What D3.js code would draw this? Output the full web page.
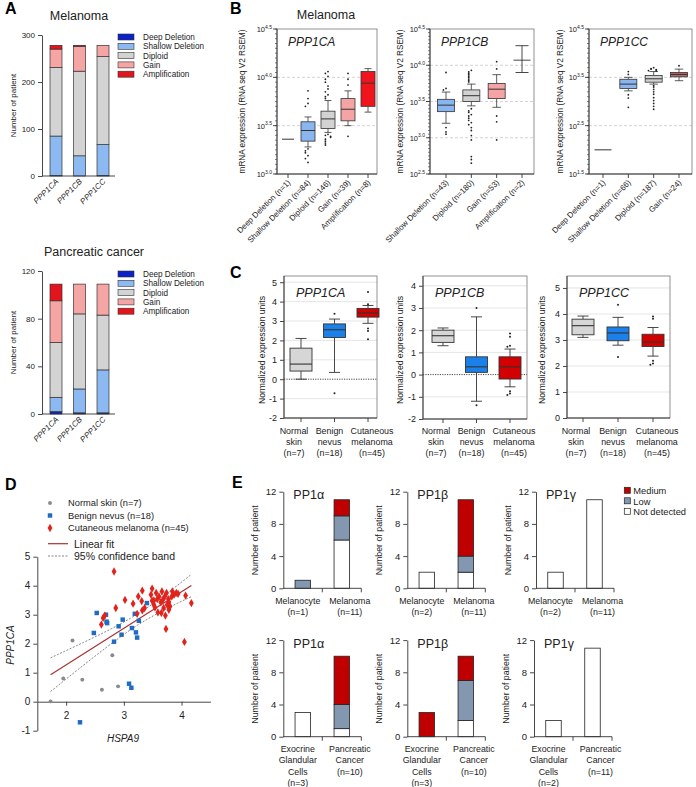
<!DOCTYPE html>
<html><head><meta charset="utf-8">
<script src="https://cdn.jsdelivr.net/npm/d3@7"></script>
<style>
body{margin:0;background:#fff;}
svg{display:block;font-family:"Liberation Sans",Arial,sans-serif;}
</style></head><body>
<svg id="c" width="696" height="787"></svg>
<script>
// ================= DATA =================
// Panel A: copy-number alteration counts (Deep del, Shallow del, Diploid, Gain, Amplification)
const aGenes = ["PPP1CA","PPP1CB","PPP1CC"];
const aCnaTypes = ["Deep Deletion","Shallow Deletion","Diploid","Gain","Amplification"];
const aCnaColors = ["#0b22c8","#8cb9f2","#d3d3d3","#f6a5a5","#e4141c"];
const aMelanomaCounts = [[1,84,146,39,8],[0,43,180,53,2],[1,66,187,24,0]];
const aPancreasCounts = [[2,12,46,35,14],[1,20,63,25,0],[1,36,46,26,0]];
const aMelanomaTicks = [0,100,200,300];
const aPancreasTicks = [0,40,80,120];

// Panel B: log10 mRNA expression, stats = [lowWhisker, Q1, median, Q3, highWhisker]
const bCA_cats = ["Deep Deletion (n=1)","Shallow Deletion (n=84)","Diploid (n=146)","Gain (n=39)","Amplification (n=8)"];
const bCA_kind = ["line","box","box","box","box"];
const bCA_colors = ["#333","#8ab6f0","#d2d2d2","#f4a4a4","#f0141c"];
const bCA_stats = [[3.36,3.36,3.36,3.36,3.36],[3.28,3.34,3.45,3.54,3.59],[3.43,3.47,3.57,3.65,3.76],[3.50,3.55,3.67,3.78,3.86],[3.64,3.70,3.94,4.06,4.09]];
const bCA_out = [[],[3.86,3.78,3.73,3.70,3.26,3.24,3.22,3.19,3.16,3.12],[4.06,4.04,4.01,3.98,3.95,3.91,3.88,3.85,3.82,3.80,3.78,3.41,3.40,3.39,3.38,3.36,3.34,3.32,3.30],[4.04,3.98,3.92,3.39],[]];
const bCA_ticks = [3.0,3.5,4.0,4.5];

const bCB_cats = ["Shallow Deletion (n=43)","Diploid (n=180)","Gain (n=53)","Amplification (n=2)"];
const bCB_kind = ["box","box","box","range"];
const bCB_colors = ["#8ab6f0","#d2d2d2","#f4a4a4","#333"];
const bCB_stats = [[3.20,3.36,3.45,3.53,3.63],[3.44,3.50,3.58,3.66,3.74],[3.42,3.54,3.67,3.75,3.87],[3.90,4.07,4.07,4.07,4.27]];
const bCB_out = [[3.90,3.68,3.66,3.14,3.08,3.05],[3.93,3.91,3.89,3.87,3.85,3.83,3.81,3.79,3.77,3.40,3.37,3.35,3.32,3.30,3.27,3.24,3.21,3.18,3.14,3.10,3.03,2.97,2.74,2.70,2.65],[4.05,3.95,3.30,3.22,2.97],[]];
const bCB_ticks = [2.5,3.0,3.5,4.0,4.5];

const bCC_cats = ["Deep Deletion (n=1)","Shallow Deletion (n=66)","Diploid (n=187)","Gain (n=24)"];
const bCC_kind = ["line","box","box","box"];
const bCC_colors = ["#333","#8ab6f0","#d2d2d2","#b86666"];
const bCC_stats = [[2.0,2.0,2.0,2.0,2.0],[3.22,3.27,3.36,3.46,3.50],[3.36,3.40,3.47,3.54,3.62],[3.43,3.51,3.56,3.60,3.67]];
const bCC_out = [[],[3.62,3.56,3.14,3.07,2.88],[3.70,3.68,3.67,3.66,3.65,3.64,3.63,3.33,3.30,3.25,3.20,3.15,3.08,3.02,2.96,2.90,2.84],[3.74]];
const bCC_ticks = [1.5,2.5,3.5,4.5];

// Panel C: normalized expression, stats = [lowWhisker, Q1, median, Q3, highWhisker]
const cCats = [["Normal","skin","(n=7)"],["Benign","nevus","(n=18)"],["Cutaneous","melanoma","(n=45)"]];
const cColors = ["#d6d6d6","#1c80ea","#d20000"];
const cCA_stats = [[0.0,0.42,0.78,1.6,2.1],[0.35,2.15,2.55,2.85,3.1],[2.88,3.2,3.42,3.65,3.8]];
const cCA_out = [[],[-0.72,3.38],[4.5,3.86,2.62,2.48,2.06]];
const cCA_ticks = [-2,-1,0,1,2,3,4,5];
const cCB_stats = [[1.3,1.45,1.75,2.0,2.1],[-1.2,0.1,0.35,0.8,2.6],[-0.55,-0.2,0.35,0.8,1.15]];
const cCB_out = [[],[3.0,-1.38],[1.85,1.7,1.3,1.25,-0.75,-0.85,-0.92]];
const cCB_ticks = [-2,-1,0,1,2,3,4];
const cCC_stats = [[3.1,3.2,3.55,3.8,3.92],[2.8,2.97,3.27,3.5,3.87],[2.38,2.75,2.92,3.22,3.48]];
const cCC_out = [[],[4.35,2.35],[3.9,3.82,2.2,2.1,2.05]];
const cCC_ticks = [0,1,2,3,4,5];

// Panel D: HSPA9 (x) vs PPP1CA (y)
const dNormal = [[1.73,0.01],[1.95,0.80],[2.11,2.11],[2.28,0.76],[2.62,0.41],[2.80,1.60],[2.90,0.53]];
const dNevus = [[2.24,-0.71],[2.48,2.37],[2.53,3.06],[2.69,3.00],[2.70,2.76],[2.71,2.71],[2.83,2.07],[2.91,2.60],[2.96,2.31],[2.98,2.83],[3.09,0.62],[3.13,0.48],[3.14,2.54],[3.19,3.03],[3.21,2.39],[3.23,2.21],[3.26,2.79],[3.40,3.40]];
const dMelanoma = [[2.83,4.49],[2.61,2.66],[2.64,2.89],[2.67,2.97],[2.86,3.23],[3.02,3.51],[3.16,3.38],[3.23,3.03],[3.25,3.63],[3.31,3.47],[3.32,3.83],[3.32,3.15],[3.36,3.23],[3.49,3.90],[3.47,3.69],[3.49,3.48],[3.52,3.34],[3.54,3.25],[3.56,3.75],[3.61,3.63],[3.59,3.08],[3.64,3.43],[3.65,3.06],[3.66,3.80],[3.68,3.52],[3.69,3.23],[3.71,3.63],[3.72,2.97],[3.73,2.51],[3.75,3.34],[3.77,3.54],[3.78,3.17],[3.78,3.44],[3.80,3.29],[3.83,3.63],[3.84,3.80],[3.87,3.69],[3.91,3.75],[3.94,3.72],[4.07,3.66],[4.05,2.06],[4.17,3.40],[3.74,3.75],[3.58,3.54],[3.52,3.49]];
const dXTicks = [2,3,4];
const dYTicks = [-1,0,1,2,3,4,5];
const dLegend = ["Normal skin (n=7)","Benign nevus (n=18)","Cutaneous melanoma (n=45)"];

// Panel E: counts per [Not detected, Low, Medium]
const eLevels = ["Not detected","Low","Medium"];
const eColors = ["#ffffff","#8497b0","#c00000"];
const eTitles = ["PP1α","PP1β","PP1γ"];
const eMelCats = [[["Melanocyte","(n=1)"],["Melanoma","(n=11)"]],[["Melanocyte","(n=2)"],["Melanoma","(n=11)"]],[["Melanocyte","(n=2)"],["Melanoma","(n=11)"]]];
const eMelCounts = [[[0,1,0],[6,3,2]],[[2,0,0],[2,2,7]],[[2,0,0],[11,0,0]]];
const ePanCats = [[["Exocrine","Glandular","Cells","(n=3)"],["Pancreatic","Cancer","(n=10)"]],[["Exocrine","Glandular","Cells","(n=3)"],["Pancreatic","Cancer","(n=10)"]],[["Exocrine","Glandular","Cells","(n=2)"],["Pancreatic","Cancer","(n=11)"]]];
const ePanCounts = [[[3,0,0],[1,3,6]],[[0,0,3],[2,5,3]],[[2,0,0],[11,0,0]]];
const eTicks = [0,4,8,12];

// ================= DRAWING =================
const svg = d3.select("#c");
const INK = "#222";

function txt(g, x, y, s, o = {}) {
  const t = g.append("text").attr("x", x).attr("y", y).text(s)
    .attr("font-size", o.size || 9).attr("text-anchor", o.anchor || "start")
    .attr("fill", o.fill || INK);
  if (o.italic) t.attr("font-style", "italic");
  if (o.bold) t.attr("font-weight", "bold");
  if (o.rotate != null) t.attr("transform", `rotate(${o.rotate},${x},${y})`);
  return t;
}
function styleAxis(sel, size) {
  sel.selectAll(".domain").attr("stroke", "#333").attr("stroke-width", 0.9);
  sel.selectAll(".tick line").attr("stroke", "#333").attr("stroke-width", 0.9);
  sel.selectAll(".tick text").attr("font-size", size).attr("fill", INK)
    .attr("font-family", "Liberation Sans, Arial, sans-serif");
}
function hline(g, x1, x2, y, stroke, w, dash) {
  const l = g.append("line").attr("x1", x1).attr("x2", x2).attr("y1", y).attr("y2", y)
    .attr("stroke", stroke).attr("stroke-width", w);
  if (dash) l.attr("stroke-dasharray", dash);
  return l;
}
function vline(g, x, y1, y2, stroke, w) {
  return g.append("line").attr("x1", x).attr("x2", x).attr("y1", y1).attr("y2", y2)
    .attr("stroke", stroke).attr("stroke-width", w);
}

// panel letters
[["A",5,14],["B",230,14],["C",230,278],["D",5,490],["E",232,488]].forEach(([s,x,y]) =>
  txt(svg, x, y, s, {size: 16, bold: true, fill: "#000"}));

// ---------- Panel A ----------
function panelA(counts, ticks, yMax, y0, yTop, title, titleX, titleY, legY) {
  const g = svg.append("g");
  const y = d3.scaleLinear().domain([0, yMax]).range([y0, yTop]);
  const x = d3.scalePoint().domain(aGenes).range([56, 103]);
  const bw = 12;
  counts.forEach((row, i) => {
    let cum = 0;
    row.forEach((v, j) => {
      if (v > 0) {
        g.append("rect").attr("x", x(aGenes[i]) - bw / 2).attr("y", y(cum + v))
          .attr("width", bw).attr("height", y(cum) - y(cum + v))
          .attr("fill", aCnaColors[j]).attr("stroke", "#333").attr("stroke-width", 0.7);
      }
      cum += v;
    });
  });
  const ya = g.append("g").attr("transform", "translate(42,0)")
    .call(d3.axisLeft(y).tickValues(ticks).tickSize(4).tickSizeOuter(0));
  styleAxis(ya, 8);
  hline(g, 42, 115, y0, "#333", 0.9);
  aGenes.forEach(gn => {
    txt(g, x(gn) + 3, y0 + 6, gn, {size: 8, italic: true, anchor: "end", rotate: -45});
  });
  const mid = (y0 + yTop) / 2;
  txt(g, 16, mid, "Number of patient", {size: 8, anchor: "middle", rotate: -90});
  txt(g, titleX, titleY, title, {size: 12.5, anchor: "middle"});
  aCnaTypes.forEach((c, j) => {
    const yy = legY + j * 9.3;
    g.append("rect").attr("x", 118).attr("y", yy - 3).attr("width", 16).attr("height", 6)
      .attr("fill", aCnaColors[j]).attr("stroke", "#333").attr("stroke-width", 0.6);
    txt(g, 143, yy + 3, c, {size: 8.2});
  });
}
panelA(aMelanomaCounts, aMelanomaTicks, 300, 176, 35, "Melanoma", 79, 20, 37);
panelA(aPancreasCounts, aPancreasTicks, 120, 414, 271, "Pancreatic cancer", 94, 256, 274);

// ---------- Panel B ----------
function outDots(g, cx, vals, y, r, step) {
  const placed = [];
  vals.forEach(v => {
    const k = placed.filter(p => Math.abs(p - v) < step).length;
    placed.push(v);
    const off = [0, -2.6, 2.6, -5.2, 5.2, -7.8, 7.8][k % 7];
    g.append("circle").attr("cx", cx + off).attr("cy", y(v)).attr("r", r).attr("fill", "#222");
  });
}
function drawBox(g, cx, s, w, capW, fill, y, sw) {
  vline(g, cx, y(s[0]), y(s[1]), "#333", sw);
  vline(g, cx, y(s[3]), y(s[4]), "#333", sw);
  hline(g, cx - capW / 2, cx + capW / 2, y(s[0]), "#333", sw);
  hline(g, cx - capW / 2, cx + capW / 2, y(s[4]), "#333", sw);
  g.append("rect").attr("x", cx - w / 2).attr("y", y(s[3])).attr("width", w)
    .attr("height", y(s[1]) - y(s[3])).attr("fill", fill).attr("stroke", "#333").attr("stroke-width", sw);
  hline(g, cx - w / 2, cx + w / 2, y(s[2]), "#333", sw + 0.2);
}
function panelB(cfg) {
  const g = svg.append("g");
  const yTop = 29, yBot = 174;
  const y = d3.scaleLinear().domain(cfg.domain).range([yBot, yTop]);
  const x = d3.scalePoint().domain(cfg.cats).range(cfg.xr);
  cfg.grid.forEach(v => hline(g, cfg.x0, cfg.x1, y(v), "#c8c8c8", 0.8, "3,2"));
  g.append("rect").attr("x", cfg.x0).attr("y", yTop).attr("width", cfg.x1 - cfg.x0)
    .attr("height", yBot - yTop).attr("fill", "none").attr("stroke", "#777").attr("stroke-width", 0.8);
  vline(g, cfg.x0, yTop, yBot, "#333", 0.9);
  hline(g, cfg.x0, cfg.x1, yBot, "#333", 0.9);
  d3.range(cfg.domain[0], cfg.domain[1] + 1e-9, cfg.minor).forEach(v =>
    hline(g, cfg.x0 - 2, cfg.x0, y(v), "#333", 0.6));
  cfg.ticks.forEach(v => {
    hline(g, cfg.x0 - 4, cfg.x0, y(v), "#333", 0.9);
    const t = g.append("text").attr("x", cfg.x0 - 5).attr("y", y(v) + 3)
      .attr("text-anchor", "end").attr("font-size", 7.5).attr("fill", INK);
    t.append("tspan").text("10");
    t.append("tspan").attr("dy", -3.5).attr("font-size", 5).text(v.toFixed(1));
  });
  cfg.cats.forEach((c, i) => {
    const cx = x(c), s = cfg.stats[i], k = cfg.kind[i];
    vline(g, cx, yBot, yBot + 4, "#333", 0.9);
    txt(g, cx + 3, yBot + 9, c, {size: 8, anchor: "end", rotate: -45});
    if (k === "line") {
      hline(g, cx - cfg.lineW / 2, cx + cfg.lineW / 2, y(s[2]), "#333", 1);
    } else if (k === "range") {
      vline(g, cx, y(s[0]), y(s[4]), "#333", 0.9);
      hline(g, cx - 6.5, cx + 6.5, y(s[0]), "#333", 0.9);
      hline(g, cx - 6.5, cx + 6.5, y(s[4]), "#333", 0.9);
      hline(g, cx - 8.5, cx + 8.5, y(s[2]), "#333", 0.9);
    } else {
      drawBox(g, cx, s, cfg.boxW, cfg.boxW / 2, cfg.colors[i], y, 0.8);
    }
    outDots(g, cx, cfg.out[i], y, 0.9, 0.03);
  });
  txt(g, cfg.ylabX, (yTop + yBot) / 2, "mRNA expression (RNA seq V2 RSEM)",
      {size: 8.2, anchor: "middle", rotate: -90});
  txt(g, cfg.x0 + 11, 46, cfg.gene, {size: 12, italic: true});
}
panelB({x0: 277, x1: 377, xr: [288, 368], domain: [3.0, 4.5], ticks: bCA_ticks, grid: [3.5, 4.0], minor: 0.05,
  ylabX: 245, gene: "PPP1CA", cats: bCA_cats, kind: bCA_kind, stats: bCA_stats, out: bCA_out, colors: bCA_colors, boxW: 14, lineW: 12});
panelB({x0: 430, x1: 534, xr: [446, 522], domain: [2.5, 4.5], ticks: bCB_ticks, grid: [3.0, 3.5, 4.0], minor: 0.05,
  ylabX: 403, gene: "PPP1CB", cats: bCB_cats, kind: bCB_kind, stats: bCB_stats, out: bCB_out, colors: bCB_colors, boxW: 17, lineW: 17});
panelB({x0: 589, x1: 692, xr: [603, 679], domain: [1.5, 4.5], ticks: bCC_ticks, grid: [2.5, 3.5], minor: 0.1,
  ylabX: 563, gene: "PPP1CC", cats: bCC_cats, kind: bCC_kind, stats: bCC_stats, out: bCC_out, colors: bCC_colors, boxW: 17, lineW: 17});
txt(svg, 326, 19, "Melanoma", {size: 12.5, anchor: "middle"});

// ---------- Panel C ----------
const cLabelShift = [-7, -5, 4];
function panelC(cfg) {
  const g = svg.append("g");
  const yTop = 276;
  const y = d3.scaleLinear().domain(cfg.domain).range([cfg.yBot, yTop]);
  const yBot = cfg.yBot;
  const x = d3.scalePoint().domain(d3.range(cCats.length)).range(cfg.xr);
  cfg.ticks.forEach(v => {
    if (v === cfg.domain[0]) return;
    if (v === 0) hline(g, cfg.x0, cfg.x1, y(v), "#333", 0.9, "1.2,1.2");
    else hline(g, cfg.x0, cfg.x1, y(v), "#dedede", 0.8);
  });
  g.append("rect").attr("x", cfg.x0).attr("y", yTop).attr("width", cfg.x1 - cfg.x0)
    .attr("height", yBot - yTop).attr("fill", "none").attr("stroke", "#777").attr("stroke-width", 0.8);
  const ya = g.append("g").attr("transform", `translate(${cfg.x0},0)`)
    .call(d3.axisLeft(y).tickValues(cfg.ticks).tickSize(4).tickSizeOuter(0).tickFormat(d => String(d)));
  styleAxis(ya, 9);
  ya.select(".domain").remove();
  vline(g, cfg.x0, yTop, yBot, "#333", 0.9);
  hline(g, cfg.x0, cfg.x1, yBot, "#333", 0.9);
  cCats.forEach((lines, i) => {
    const cx = x(i);
    vline(g, cx, yBot, yBot + 4, "#333", 0.9);
    lines.forEach((s, k) => txt(g, cx + cLabelShift[i], 434 + k * 10.8, s, {size: 8.9, anchor: "middle"}));
    drawBox(g, cx, cfg.stats[i], 22, 11, cColors[i], y, 0.9);
    outDots(g, cx, cfg.out[i], y, 1.0, 0.08);
  });
  txt(g, cfg.ylabX, 350, "Normalized expression units", {size: 8.6, anchor: "middle", rotate: -90});
  txt(g, cfg.x0 + 12, 297, cfg.gene, {size: 12.5, italic: true});
}
panelC({x0: 284, x1: 377, xr: [301, 368], yBot: 418, domain: [-2, 5.32], ticks: cCA_ticks, ylabX: 265,
  gene: "PPP1CA", stats: cCA_stats, out: cCA_out});
panelC({x0: 423, x1: 527, xr: [443, 510], yBot: 419, domain: [-2, 4.44], ticks: cCB_ticks, ylabX: 403,
  gene: "PPP1CB", stats: cCB_stats, out: cCB_out});
panelC({x0: 567, x1: 670, xr: [583, 653], yBot: 418, domain: [0, 5.46], ticks: cCC_ticks, ylabX: 545,
  gene: "PPP1CC", stats: cCC_stats, out: cCC_out});

// ---------- Panel D ----------
(function () {
  const g = svg.append("g");
  const x = d3.scaleLinear().domain([1.5, 4.5]).range([37.3, 210.4]);
  const y = d3.scaleLinear().domain([-1, 5]).range([730.7, 556.7]);
  const ya = g.append("g").attr("transform", "translate(37.3,0)")
    .call(d3.axisLeft(y).tickValues(dYTicks).tickSize(4).tickSizeOuter(0).tickFormat(d => String(d)));
  styleAxis(ya, 10);
  const xa = g.append("g").attr("transform", `translate(0,${y(0)})`)
    .call(d3.axisBottom(x).tickValues(dXTicks).tickSize(4).tickSizeOuter(0).tickFormat(d => String(d)));
  styleAxis(xa, 10);
  xa.selectAll(".tick text").attr("dy", "1.0em");

  // regression + 95% confidence band computed from all points
  const all = dNormal.concat(dNevus, dMelanoma);
  const n = all.length;
  const mx = d3.mean(all, d => d[0]), my = d3.mean(all, d => d[1]);
  const sxx = d3.sum(all, d => (d[0] - mx) ** 2);
  const sxy = d3.sum(all, d => (d[0] - mx) * (d[1] - my));
  const b = sxy / sxx, a = my - b * mx;
  const sse = d3.sum(all, d => (d[1] - (a + b * d[0])) ** 2);
  const se = Math.sqrt(sse / (n - 2)), tq = 1.995;
  const xmin = d3.min(all, d => d[0]), xmax = d3.max(all, d => d[0]);
  const xs = d3.range(xmin, xmax + 1e-9, (xmax - xmin) / 60);
  const half = xv => tq * se * Math.sqrt(1 / n + (xv - mx) ** 2 / sxx);
  const ln = d3.line().x(d => x(d[0])).y(d => y(d[1]));
  g.append("path").attr("d", ln(xs.map(v => [v, a + b * v + half(v)]))).attr("fill", "none")
    .attr("stroke", "#666").attr("stroke-width", 0.8).attr("stroke-dasharray", "2,1.5");
  g.append("path").attr("d", ln(xs.map(v => [v, a + b * v - half(v)]))).attr("fill", "none")
    .attr("stroke", "#666").attr("stroke-width", 0.8).attr("stroke-dasharray", "2,1.5");
  g.append("path").attr("d", ln([[xmin, a + b * xmin], [xmax, a + b * xmax]])).attr("fill", "none")
    .attr("stroke", "#a83232").attr("stroke-width", 1.2);

  const circ = d3.symbol().type(d3.symbolCircle).size(12);
  const sq = d3.symbol().type(d3.symbolSquare).size(20);
  const dia = d3.symbol().type(d3.symbolDiamond).size(20);
  const groups = [[dNormal, circ, "#8a8a8a"], [dNevus, sq, "#1f6cc4"], [dMelanoma, dia, "#e0231c"]];
  groups.forEach(([data, sym, col]) => {
    g.selectAll(null).data(data).enter().append("path").attr("d", sym)
      .attr("transform", d => `translate(${x(d[0])},${y(d[1])})`).attr("fill", col);
  });
  const ly = [503, 515.5, 528];
  groups.forEach(([, sym, col], i) => {
    g.append("path").attr("d", sym).attr("transform", `translate(50,${ly[i]})`).attr("fill", col);
    txt(g, 68, ly[i] + 3.3, dLegend[i], {size: 9.3});
  });
  hline(g, 48, 68, 543.7, "#a83232", 1.2);
  txt(g, 74, 547.5, "Linear fit", {size: 10.5});
  hline(g, 48, 68, 556, "#666", 0.8, "2,1.5");
  txt(g, 74, 560, "95% confidence band", {size: 10.5});
  txt(g, 14, 645, "PPP1CA", {size: 10, italic: true, anchor: "middle", rotate: -90});
  txt(g, 123, 742, "HSPA9", {size: 10, italic: true, anchor: "middle"});
})();

// ---------- Panel E ----------
const eLabelShift = [-5, 8];
function panelE(x0, y0, title, cats, counts) {
  const g = svg.append("g");
  const y = d3.scaleLinear().domain([0, 12]).range([y0, y0 - 96.6]);
  const x = d3.scaleBand().domain(d3.range(cats.length)).range([x0, x0 + 78]);
  const bw = 15.5;
  counts.forEach((row, i) => {
    let cum = 0;
    const cx = x(i) + x.bandwidth() / 2;
    row.forEach((v, j) => {
      if (v > 0) {
        g.append("rect").attr("x", cx - bw / 2).attr("y", y(cum + v)).attr("width", bw)
          .attr("height", y(cum) - y(cum + v)).attr("fill", eColors[j])
          .attr("stroke", "#222").attr("stroke-width", 0.8);
      }
      cum += v;
    });
    cats[i].forEach((s, k) => txt(g, cx + eLabelShift[i], y0 + 15.5 + k * 11.2, s, {size: 8.8, anchor: "middle"}));
  });
  const ya = g.append("g").attr("transform", `translate(${x0},0)`)
    .call(d3.axisLeft(y).tickValues(eTicks).tickSize(4).tickSizeOuter(0));
  styleAxis(ya, 9.5);
  hline(g, x0, x0 + 78, y0, "#333", 0.9);
  [x0 + 39, x0 + 78].forEach(v => vline(g, v, y0, y0 + 4, "#333", 0.9));
  txt(g, x0 + 10, y0 - 89, title, {size: 12.5});
  txt(g, x0 - 25, y0 - 48, "Number of patient", {size: 8.8, anchor: "middle", rotate: -90});
}
const eRow1 = [283.3, 407.3, 536];
const eRow2 = [283.3, 407.3, 534];
eTitles.forEach((t, i) => panelE(eRow1[i], 588.3, t, eMelCats[i], eMelCounts[i]));
eTitles.forEach((t, i) => panelE(eRow2[i], 736.7, t, ePanCats[i], ePanCounts[i]));
[2, 1, 0].forEach((j, r) => {
  const yy = 490.8 + r * 10.5;
  svg.append("rect").attr("x", 624.3).attr("y", yy - 3.5).attr("width", 6).attr("height", 6)
    .attr("fill", eColors[j]).attr("stroke", "#222").attr("stroke-width", 0.7);
  txt(svg, 633.3, yy + 3.3, eLevels[j], {size: 9.3});
});
</script>
</body></html>
